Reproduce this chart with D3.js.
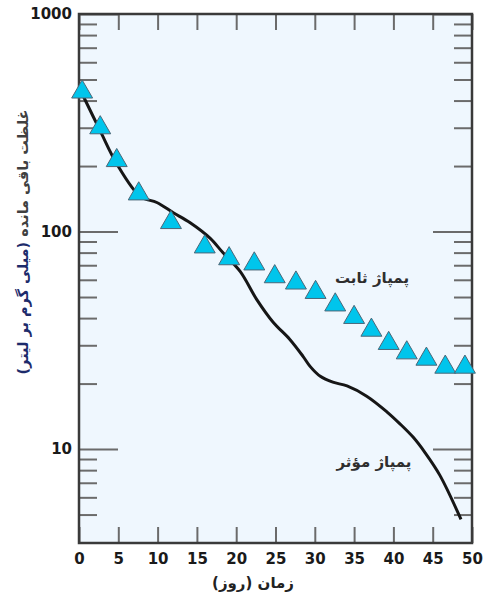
<!DOCTYPE html>
<html>
<head>
<meta charset="utf-8">
<script src="https://cdn.jsdelivr.net/npm/d3@7"></script>
<style>
  body { margin: 0; background: #fff; }
  svg { display: block; }
</style>
</head>
<body>
<svg width="487" height="599"></svg>
<script>
// constant pumping (triangles)
var constDays = [0.4, 2.7, 4.8, 7.6, 11.7, 16, 19.1, 22.3, 24.9, 27.6, 30.1, 32.6, 35, 37.2, 39.4, 41.7, 44.2, 46.6, 49.1];
var constVals = [438, 300, 212, 149, 110, 85, 75, 71, 62, 58, 52.5, 46, 40.3, 35.2, 30.6, 27.7, 25.9, 23.8, 23.8];

// effective pumping (line)
var effDays = [0.4, 2.7, 4.8, 7.8, 9.9, 12.0, 14.1, 16.7, 18.3, 20.5, 22.6, 24.7, 26.8, 28.5, 29.4, 30.7, 32.3, 34.1, 36.6, 39.2, 40.8, 42.5, 44.0, 45.9, 48.6];
var effVals = [430, 290, 205, 145, 136, 122, 110, 93, 80, 65.6, 48.8, 38.3, 32, 26.7, 24, 21.6, 20.3, 19.5, 17.5, 14.8, 13.1, 11.35, 9.66, 7.59, 4.75];

var xTicks = [0, 5, 10, 15, 20, 25, 30, 35, 40, 45, 50];
var yMajor = [10, 100, 1000];
var yMinor = [5, 6, 7, 8, 9, 20, 30, 40, 50, 60, 70, 80, 90, 200, 300, 400, 500, 600, 700, 800, 900];

var labelConst = 'پمپاژ ثابت';
var labelEff = 'پمپاژ مؤثر';
var xTitle = 'زمان (روز)';
var yTitleA = 'غلظت باقی مانده ';
var yTitleB = '(میلی گرم بر لیتر)';

var margin = { top: 14, right: 15, bottom: 56, left: 79 };
var svg = d3.select('svg'),
    width = +svg.attr('width') - margin.left - margin.right,
    height = +svg.attr('height') - margin.top - margin.bottom;

var x = d3.scaleLinear().domain([0, 50]).range([0, width]);
var y = d3.scaleLog().domain([3.7, 1000]).range([height, 0]);

var g = svg.append('g')
    .attr('transform', 'translate(' + margin.left + ',' + margin.top + ')');

g.append('rect')
    .attr('width', width)
    .attr('height', height)
    .attr('fill', '#eff7fe');

function styleTicks(sel) {
    sel.select('.domain').remove();
    sel.selectAll('.tick line').attr('stroke', '#6b6b6b').attr('stroke-width', 2);
}

// minor y ticks, both sides
g.append('g').call(d3.axisLeft(y).tickValues(yMinor).tickSize(-18).tickFormat('')).call(styleTicks);
g.append('g').attr('transform', 'translate(' + width + ',0)')
    .call(d3.axisRight(y).tickValues(yMinor).tickSize(-18).tickFormat('')).call(styleTicks);

// major y ticks with labels
var yAx = g.append('g')
    .call(d3.axisLeft(y).tickValues(yMajor).tickSize(-39).tickPadding(7).tickFormat(d3.format('d')))
    .call(styleTicks);
g.append('g').attr('transform', 'translate(' + width + ',0)')
    .call(d3.axisRight(y).tickValues(yMajor).tickSize(-39).tickFormat('')).call(styleTicks);

// x ticks bottom and top
var xAx = g.append('g').attr('transform', 'translate(0,' + height + ')')
    .call(d3.axisBottom(x).tickValues(xTicks).tickSize(-16).tickPadding(10))
    .call(styleTicks);
g.append('g')
    .call(d3.axisTop(x).tickValues(xTicks).tickSize(-16).tickFormat('')).call(styleTicks);

[yAx, xAx].forEach(function (a) {
    a.selectAll('text')
        .attr('font-family', 'DejaVu Sans')
        .attr('font-weight', 'bold')
        .attr('font-size', 15)
        .attr('fill', '#1a1a1a');
});

// frame
g.append('rect')
    .attr('width', width)
    .attr('height', height)
    .attr('fill', 'none')
    .attr('stroke', '#3a3a3a')
    .attr('stroke-width', 2.5);

// effective pumping curve
var line = d3.line()
    .x(function (d, i) { return x(effDays[i]); })
    .y(function (d) { return y(d); })
    .curve(d3.curveCatmullRom.alpha(0.5));

g.append('path')
    .datum(effVals)
    .attr('d', line)
    .attr('fill', 'none')
    .attr('stroke', '#161616')
    .attr('stroke-width', 3);

// constant pumping triangles
g.selectAll('.tri')
    .data(constVals)
    .enter().append('path')
    .attr('class', 'tri')
    .attr('d', d3.symbol(d3.symbolTriangle).size(190))
    .attr('transform', function (d, i) { return 'translate(' + x(constDays[i]) + ',' + y(d) + ')'; })
    .attr('fill', '#00c5ec')
    .attr('stroke', '#4b6778')
    .attr('stroke-width', 1);

// series labels
function persianText(sel) {
    return sel.attr('font-family', 'DejaVu Sans')
        .attr('font-weight', 'bold')
        .attr('direction', 'rtl')
        .attr('text-anchor', 'middle');
}
persianText(svg.append('text'))
    .attr('x', 372).attr('y', 283)
    .attr('font-size', 15)
    .attr('fill', '#2e2e2e')
    .text(labelConst);
persianText(svg.append('text'))
    .attr('x', 374).attr('y', 467)
    .attr('font-size', 15)
    .attr('fill', '#2e2e2e')
    .text(labelEff);

// axis titles
persianText(svg.append('text'))
    .attr('x', 253).attr('y', 588)
    .attr('font-size', 15)
    .attr('fill', '#222')
    .text(xTitle);

var yt = persianText(svg.append('text'))
    .attr('transform', 'translate(28,242) rotate(-90)')
    .attr('font-size', 14.5);
yt.append('tspan').attr('fill', '#404040').text(yTitleA);
yt.append('tspan').attr('fill', '#1d2b6b').text(yTitleB);
</script>
</body>
</html>
